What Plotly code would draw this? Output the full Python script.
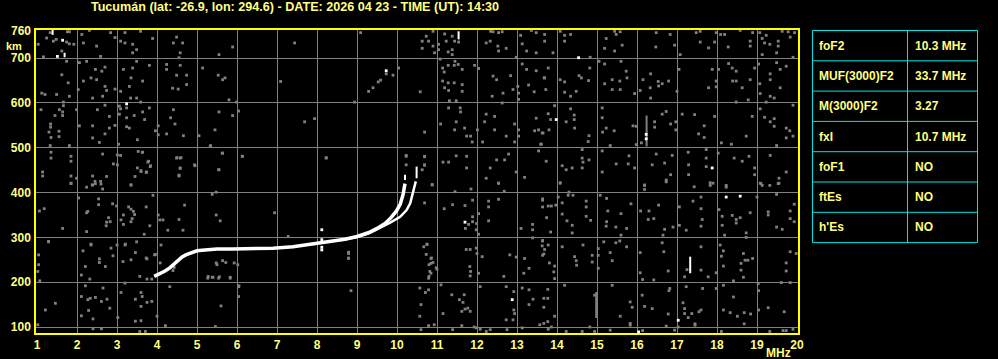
import plotly.graph_objects as go

# ---------------- data ----------------
title_text = "Tucumán (lat: -26.9, lon: 294.6) - DATE: 2026 04 23 - TIME (UT): 14:30"

x_ticks = list(range(1, 21))
y_grid = [100, 200, 300, 400, 500, 600, 700]
y_top_label = 760

# ordinary trace (o)
o_f = [3.93, 4.05, 4.2, 4.32, 4.42, 4.52, 4.62, 4.72, 4.85, 5.0, 5.2, 5.5, 5.9, 6.4,
       6.9, 7.4, 7.9, 8.3, 8.7, 9.0, 9.3, 9.5, 9.7, 9.85, 9.98, 10.08, 10.15, 10.2]
o_h = [213, 218, 225, 232, 240, 250, 256, 261, 266, 270, 272, 274, 274, 275,
       276, 279, 285, 290, 296, 302, 311, 320, 331, 344, 358, 374, 395, 420]
# extraordinary trace (x)
x_f = [8.6, 9.0, 9.3, 9.55, 9.83, 10.08, 10.24, 10.33, 10.39, 10.45, 10.47]
x_h = [294, 301, 309, 320, 333, 346, 361, 376, 395, 413, 425]

# white vertical echo segments (frequency, h start, h end)
white_segments = [(17.33, 220, 257), (10.2, 428, 440), (10.49, 432, 458),
                  (11.54, 742, 760), (1.39, 752, 763), (1.69, 702, 712)]

white_points = [(1.64, 740), (1.51, 704), (3.24, 598), (9.73, 672), (14.54, 701),
                (13.98, 563), (16.23, 530), (16.23, 520), (17.88, 455), (18.23, 390),
                (18.58, 392), (17.03, 115), (16.04, 89), (12.88, 161), (11.7, 334),
                (8.12, 317), (8.12, 295), (8.12, 272), (8.12, 278)]

gray_segments = [(16.24, 503, 572), (14.98, 120, 178)]

noise_points = [
    (1.24,745),(1.33,757),(1.41,738),(1.48,742),(1.76,759),(1.81,759),(1.74,736),(1.62,716),(1.81,732),(1.92,731),
    (2.12,753),(2.16,734),(2.31,762),(2.49,727),(2.59,704),(2.84,757),(2.95,746),(3.09,738),(3.2,757),(3.2,734),
    (3.39,731),(3.49,719),(3.59,760),(3.39,712),(3.89,744),(4.41,734),(4.49,747),(4.64,734),(4.58,712),(4.55,701),
    (5.55,708),(5.89,725),(1.03,731),(1.16,703),
    (1.74,693),(1.78,645),(1.62,663),(1.49,619),(1.12,622),(1.2,619),(1.81,615),(1.66,602),(2.03,630),(2.16,649),
    (2.06,690),(2.24,693),(2.46,675),(2.62,671),(2.7,680),(2.35,656),(2.49,652),(2.7,637),(2.74,628),(2.64,615),
    (2.39,611),(2.95,631),(3.09,626),(3.16,675),(3.31,637),(3.35,656),(3.39,678),(3.49,693),(3.64,649),(3.81,684),
    (3.34,611),(3.49,611),(3.59,602),(4.24,686),(4.24,675),(4.39,633),(4.53,631),(4.49,662),(4.58,684),(4.74,662),
    (4.74,641),(5.14,678),(5.53,662),(5.64,652),(5.7,656),(5.8,607),(5.99,602),(7.09,648),
    (1.1,585),(1.34,553),(1.34,546),(1.3,535),(1.35,523),(1.55,537),(1.55,525),(1.33,505),(1.45,572),(1.56,585),
    (1.64,580),(1.64,572),(1.66,594),(1.99,585),(1.81,505),(2.06,549),(2.39,549),(2.51,585),(2.7,595),(2.81,570),
    (2.81,544),(2.39,522),(2.56,512),(2.7,531),(2.95,550),(3.06,593),(3.09,587),(3.06,575),(3.24,589),(3.24,567),
    (3.24,547),(3.31,544),(3.43,572),(3.51,518),(3.69,563),(3.64,580),(3.81,589),(3.96,538),(4.03,549),(4.03,529),
    (4.24,531),(4.34,567),(4.41,585),(4.45,553),(4.66,527),(5.05,527),(5.34,505),(5.45,540),(5.55,580),(5.89,572),
    (6.04,582),(3.04,508),
    (1.35,490),(1.35,477),(1.14,446),(1.14,437),(1.85,481),(1.85,470),(1.85,437),(1.85,421),(1.99,432),(2.39,437),
    (2.45,425),(2.59,425),(2.74,436),(2.64,486),(2.91,464),(3.01,484),(3.09,483),(3.01,462),(3.35,417),(3.45,436),
    (3.53,492),(3.64,490),(3.51,455),(3.6,449),(3.74,446),(3.79,470),(3.84,460),(4.49,477),(4.58,477),(4.58,455),
    (4.55,437),(4.95,460),(5.55,451),(5.64,488),(6.14,481),(2.39,417),
    (7.44,734),(9.09,757),(10.9,760),(10.73,749),(10.63,738),(10.79,738),(10.63,722),(10.9,727),(10.94,712),(11.04,731),
    (11.04,719),(11.19,754),(11.23,738),(11.38,749),(11.28,714),(11.38,719),(11.44,738),(11.54,736),(11.38,708),(12.34,760),
    (12.4,759),(12.54,757),(12.63,759),(12.33,738),(12.23,734),(12.52,727),(12.54,716),(12.73,722),(13.09,751),(13.13,732),
    (13.24,716),(13.48,712),(13.48,757),(13.36,762),(12.98,702),
    (9.73,665),(9.59,651),(9.53,647),(9.4,634),(9.29,626),(9.9,662),(10.04,678),(10.58,625),(8.94,602),(11.08,698),
    (11.14,678),(11.18,669),(11.28,684),(11.45,693),(11.53,686),(11.43,684),(11.63,675),(11.28,645),(11.14,649),(11.19,634),
    (11.29,628),(11.43,645),(11.63,641),(11.63,626),(11.31,605),(11.48,605),(11.94,684),(12.04,677),(12.4,660),(12.49,652),
    (12.38,615),(12.65,622),(12.63,600),(12.84,661),(13.02,637),(13.04,622),(13.04,608),(12.9,630),(13.13,687),(13.24,675),
    (13.29,640),(13.48,672),(13.43,625),(13.68,656),
    (7.94,565),(7.69,558),(10.69,535),(11.09,553),(11.29,589),(11.58,589),(11.59,580),(11.48,558),(11.69,544),(11.44,540),
    (11.74,526),(11.84,526),(11.88,513),(12.23,575),(12.19,558),(12.44,570),(12.44,540),(12.73,526),(12.94,553),(12.94,513),
    (13.04,540),(13.04,526),(13.48,566),(13.44,538),(13.54,540),(13.63,533),(13.59,508),(12.14,513),(12.01,540),
    (8.23,477),(10.23,481),(10.23,462),(10.69,481),(10.69,462),(10.63,451),(10.88,417),(11.15,468),(11.29,468),(11.48,482),
    (11.74,481),(11.74,455),(12.23,432),(12.33,455),(12.49,473),(12.69,473),(12.79,486),(12.54,421),(12.98,446),(13.19,434),
    (13.54,493),
    (13.69,753),(13.69,738),(14.08,760),(14.19,751),(14.34,753),(14.19,738),(13.9,712),(14.83,702),(15.23,744),(15.44,760),
    (15.58,759),(15.48,753),(15.63,729),(15.44,716),(15.19,722),(16.48,757),(16.47,725),(16.83,753),(16.94,729),(17.08,708),
    (17.48,757),(17.58,760),(17.58,736),(17.94,736),(17.98,757),(17.79,723),(18.09,753),(18.19,753),(18.28,725),(18.58,762),
    (18.89,757),(18.83,738),(18.83,727),(19.07,757),(19.13,744),(19.23,751),(19.19,734),(19.32,731),(19.53,738),(19.53,727),
    (19.49,712),(19.63,760),(19.78,759),(19.83,747),(19.94,757),(19.13,708),(19.9,702),
    (13.78,678),(13.69,656),(13.72,630),(14.08,652),(14.19,647),(14.19,624),(14.34,615),(14.48,626),(14.55,661),(14.61,656),
    (14.79,650),(14.82,678),(15.05,693),(15.19,687),(15.6,693),(15.73,671),(15.57,649),(15.58,630),(15.38,652),(15.19,643),
    (15.38,630),(15.75,656),(15.94,621),(16.08,628),(16.15,652),(16.34,665),(16.33,634),(16.34,611),(16.53,648),(16.54,638),
    (16.63,643),(16.79,649),(17.0,626),(17.05,675),(17.88,675),(17.79,634),(17.98,649),(17.98,636),(18.04,675),(18.29,688),
    (18.38,678),(18.48,671),(18.39,649),(18.48,649),(18.63,634),(18.83,652),(18.78,607),(18.48,602),(19.04,687),(18.94,678),
    (19.07,643),(19.08,621),(19.23,602),(19.33,615),(19.43,611),(19.33,665),(19.33,652),(19.49,690),(19.58,675),(19.58,634),
    (19.73,682),
    (13.94,594),(13.78,576),(13.84,563),(13.65,533),(13.61,508),(13.8,540),(14.23,558),(14.34,587),(14.43,573),(14.43,563),
    (14.44,544),(14.8,527),(14.78,514),(15.13,589),(15.13,567),(15.23,544),(15.14,535),(15.43,538),(15.33,505),(15.9,549),
    (15.98,548),(15.98,507),(16.11,511),(16.44,558),(16.44,546),(16.63,575),(16.73,581),(16.84,553),(16.97,558),(16.97,540),
    (17.13,575),(17.44,574),(17.54,531),(17.68,549),(17.68,523),(17.94,570),(18.11,511),(18.36,508),(18.73,526),(18.88,570),
    (19.08,587),(19.19,568),(19.33,558),(19.43,565),(19.43,548),(19.73,544),(19.73,522),(19.82,538),(19.9,526),(19.9,595),
    (19.49,505),
    (13.73,470),(14.13,460),(14.23,451),(14.38,455),(14.63,496),(14.63,477),(14.65,468),(14.8,473),(14.63,455),(14.08,421),
    (15.13,493),(15.13,446),(15.48,464),(15.78,464),(15.8,482),(15.94,455),(16.19,417),(16.38,462),(16.48,486),(16.69,466),
    (16.73,428),(16.84,440),(16.88,483),(17.28,490),(17.29,462),(17.29,440),(17.73,496),(17.73,477),(17.73,458),(17.9,421),
    (18.03,488),(18.23,412),(18.43,477),(18.63,470),(18.8,481),(18.94,455),(18.94,440),(19.08,421),(19.33,483),(19.55,432),
    (19.55,421),(19.73,446),
    (14.08,422),(14.3,401),(14.28,394),(14.4,394),(14.03,390),(14.13,377),(13.78,370),(13.86,370),(13.97,372),(13.74,344),
    (13.64,383),(14.13,352),(14.25,337),(14.38,327),(14.38,310),(13.84,312),(14.73,381),(14.73,347),(14.73,368),(14.84,338),
    (15.08,394),(15.24,387),(15.27,359),(15.24,335),(15.23,325),(15.47,323),(15.6,353),(15.6,305),(15.74,320),(15.85,375),
    (16.09,359),(16.3,359),(16.28,340),(16.42,342),(16.54,372),(16.69,318),(16.9,323),(16.65,305),(16.19,416),(16.19,407),
    (16.73,424),(17.06,368),(17.4,381),(17.6,390),(17.6,364),(17.63,340),(17.43,413),(17.83,422),(17.83,416),(17.6,325),
    (17.06,327),(17.23,316),(18.23,416),(18.05,362),(18.13,347),(18.13,327),(18.38,349),(18.48,332),(18.48,340),(18.58,344),
    (18.73,310),(18.73,300),(18.19,305),(18.83,355),(19.1,420),(19.13,416),(19.32,416),(19.53,420),(19.0,390),(19.49,396),
    (19.28,357),(19.28,350),(19.49,323),(19.83,359),(19.83,342),(19.93,335),(19.93,374),(19.63,318),
    (13.64,292),(13.69,273),(13.78,283),(13.64,260),(13.81,243),(13.94,236),(13.94,208),(13.92,223),(14.13,279),(14.44,257),
    (14.48,248),(14.49,238),(14.65,283),(14.88,260),(14.88,245),(15.03,275),(15.03,260),(15.03,231),(15.17,290),(15.33,266),
    (15.38,248),(15.47,288),(15.57,292),(15.74,279),(16.08,266),(16.08,221),(16.14,206),(16.42,205),(16.67,268),(16.78,225),
    (16.63,288),(17.25,228),(17.19,212),(17.6,279),(17.6,227),(17.78,212),(17.98,221),(18.08,283),(18.11,258),(18.16,270),
    (18.16,236),(18.41,203),(18.6,242),(18.66,264),(18.7,249),(18.77,249),(18.89,253),(18.6,227),(18.66,211),(19.73,243),
    (19.73,225),(19.83,268),(19.98,264),(19.61,199),(19.03,197),
    (13.77,184),(13.67,164),(13.77,164),(13.67,144),(13.94,124),(13.77,112),(14.19,193),(14.94,171),(15.38,193),(15.58,124),
    (15.83,108),(15.83,156),(15.88,144),(16.13,171),(16.19,146),(16.38,141),(16.78,129),(16.82,186),(16.8,181),(17.23,190),
    (17.15,154),(17.19,141),(17.19,130),(17.28,121),(17.37,130),(17.45,107),(17.55,134),(17.6,138),(17.64,186),(17.98,186),
    (18.16,193),(18.41,167),(18.16,138),(18.33,132),(18.51,124),(18.68,132),(18.84,129),(19.04,181),(19.04,138),(19.28,143),
    (19.68,134),(19.83,199),(18.68,107),
    (13.86,100),(14.82,100),(15.33,93),(15.83,104),(16.14,92),(16.73,102),(16.94,93),(17.03,100),(17.45,104),(19.65,92),
    (19.73,92),(19.9,95),(13.67,108),(13.78,95),(14.23,90),(14.63,90),(14.94,90),(18.11,90),(19.32,90),
    (1.29,290),(1.04,261),(1.04,239),(1.02,224),(1.07,203),(1.21,138),(1.46,153),(1.02,105),(2.35,283),(2.15,270),
    (2.21,235),(2.11,216),(2.32,207),(2.56,252),(2.56,244),(2.71,235),(2.85,276),(2.9,259),(3.0,283),(3.2,283),
    (3.46,266),(3.15,246),(3.35,250),(3.75,252),(3.96,262),(3.57,213),(3.75,207),(3.87,207),(2.21,192),(2.11,168),
    (2.27,161),(2.33,164),(2.46,166),(2.61,157),(2.75,162),(2.29,137),(2.4,118),(2.11,125),(2.65,187),(2.82,142),
    (3.02,121),(3.1,177),(3.2,198),(3.46,162),(3.6,177),(3.63,168),(3.75,155),(3.6,146),(3.87,157),(4.0,124),
    (3.6,114),(3.46,113),(2.4,96),(2.61,96),(3.57,90),(3.71,90),(4.32,190),(4.21,103),(4.43,233),(4.4,226),
    (5.27,209),(5.4,211),(5.54,209),(5.83,209),(5.5,239),(5.72,244),(6.02,239),(6.04,190),(6.04,168),(5.6,147),
    (5.46,101),(8.79,264),(8.79,253),(8.85,181),(10.57,187),(10.6,150),(10.71,177),(10.79,183),(10.57,124),(10.6,94),
    (10.67,279),(10.75,285),(10.85,253),(10.85,242),(10.85,220),(10.79,209),(10.93,105),(11.0,229),(11.1,194),(11.15,130),
    (10.79,103),(11.37,172),(11.39,94),(11.56,161),(11.62,103),(11.65,155),(11.68,172),(11.7,140),(11.62,135),(11.77,142),
    (11.83,135),(11.82,235),(11.84,224),(11.83,214),(11.73,273),(11.83,273),(12.0,264),(11.98,276),(12.04,220),(12.13,257),
    (12.08,190),(11.98,98),(12.08,95),(12.23,90),(11.93,100),(12.33,94),
    (12.82,261),(12.98,256),(13.19,253),(13.3,231),(13.17,220),(12.67,213),(12.73,190),(12.92,179),(13.13,187),(13.3,183),
    (12.92,138),(12.94,130),(12.73,116),(12.9,116),(12.75,94),(13.13,98),(13.3,150),(13.4,162),(13.57,105),(13.63,281),
    (13.67,263),
    (3.63,490),(3.77,468),(3.83,458),(3.73,445),(3.6,447),(4.5,478),(4.6,478),(4.58,454),(4.55,439),(4.94,462),
    (5.33,503),(5.63,488),(6.13,481),(5.54,451),(5.48,401),(5.38,396),(4.69,372),(3.73,368),(3.9,394),(4.07,339),
    (4.15,339),(4.03,350),(4.55,340),(5.48,350),(5.58,337),(6.94,355),(7.28,302),(8.23,478),(8.79,267),(8.79,254),
    (10.23,483),(10.69,480),(10.69,461),(10.69,377),(10.88,418),(10.75,284),(10.86,254),(10.8,239),(10.9,244),(10.82,224),
    (10.8,213),(10.98,232),(3.82,326),(3.94,261),(3.73,254),(4.1,283),(4.08,243),(4.27,316),(4.65,316),(5.48,243),
    (5.64,248),(5.93,243),(5.28,213),(5.38,211),(5.56,212),(5.83,211),(6.05,192),(10.73,262),
    (1.85,420),(2.24,412),(2.38,417),(2.46,420),(2.64,408),(2.6,419),(2.04,388),(2.54,386),(2.54,373),(2.89,375),
    (2.99,370),(2.27,358),(2.24,355),(1.06,359),(1.18,364),(1.64,320),(2.24,313),(2.79,344),(2.83,335),(2.74,334),
    (2.73,326),(3.1,339),(3.16,350),(3.29,368),(3.35,363),(3.41,358),(3.44,351),(3.38,342),(3.35,335),(3.16,329),
    (3.35,417),(1.29,291),(2.35,285),(3.21,285),(3.49,290),(3.68,307),
    (11.85,408),(11.45,402),(12.54,421),(12.68,403),(11.18,364),(11.39,373),(11.7,371),(11.89,383),(12.29,381),(12.29,368),
    (12.54,385),(12.04,353),(11.89,346),(11.89,335),(11.79,329),(11.99,331),(11.98,317),(12.04,307),(12.29,337),(11.71,320),
    (13.1,320),(13.39,329),(13.39,317),(13.39,299),(13.64,386),(13.64,368),(13.64,293),
]

table_params = ["foF2", "MUF(3000)F2", "M(3000)F2", "fxI", "foF1", "ftEs", "h'Es"]
table_values = ["10.3 MHz", "33.7 MHz", "3.27", "10.7 MHz", "NO", "NO", "NO"]

# ---------------- styles ----------------
TXT = "#ffff80"
FONT = "Liberation Sans"
GRID = "#808080"
CYAN = "#00e5e5"

W, H = 998, 359
ML, MR, MT, MB = 36, 20, 30, 26
PW, PH = W - ML - MR, H - MT - MB


def px_x(px):
    return (px - ML) / PW


def px_y(py):
    return (H - MB - py) / PH


fig = go.Figure()


def seg_xy(segs):
    xs, ys = [], []
    for f, h0, h1 in segs:
        xs += [f, f, None]
        ys += [h0, h1, None]
    return xs, ys


fig.add_trace(go.Scatter(
    x=[p[0] for p in noise_points], y=[p[1] for p in noise_points],
    mode="markers", marker=dict(symbol="square", size=2.8, color=GRID, line=dict(width=0)),
    hoverinfo="skip"))
gx, gy = seg_xy(gray_segments)
fig.add_trace(go.Scatter(x=gx, y=gy, mode="lines", line=dict(color=GRID, width=2), hoverinfo="skip"))

fig.add_trace(go.Scatter(x=o_f, y=o_h, mode="lines", line=dict(color="white", width=3.5), hoverinfo="skip"))
fig.add_trace(go.Scatter(x=x_f, y=x_h, mode="lines", line=dict(color="white", width=2.5), hoverinfo="skip"))
wx, wy = seg_xy(white_segments)
fig.add_trace(go.Scatter(x=wx, y=wy, mode="lines", line=dict(color="white", width=2), hoverinfo="skip"))
fig.add_trace(go.Scatter(
    x=[p[0] for p in white_points], y=[p[1] for p in white_points],
    mode="markers", marker=dict(symbol="square", size=2.8, color="white", line=dict(width=0)),
    hoverinfo="skip"))

axis_font = dict(family=FONT, size=12, color=TXT, weight="bold")

# parameter table drawn with shapes + annotations
tab_left, tab_mid, tab_right = 812.5, 907.5, 977.5
tab_top, row_h = 30.5, 30.3
n_rows = len(table_params)
shapes = []
for i in range(n_rows + 1):
    yy = px_y(tab_top + i * row_h)
    shapes.append(dict(type="line", xref="paper", yref="paper", x0=px_x(tab_left), x1=px_x(tab_right),
                       y0=yy, y1=yy, line=dict(color=CYAN, width=1)))
for xx in (tab_left, tab_mid, tab_right):
    shapes.append(dict(type="line", xref="paper", yref="paper", x0=px_x(xx), x1=px_x(xx),
                       y0=px_y(tab_top), y1=px_y(tab_top + n_rows * row_h), line=dict(color=CYAN, width=1)))

annotations = []
for i, (p, v) in enumerate(zip(table_params, table_values)):
    yc = px_y(tab_top + (i + 0.5) * row_h)
    annotations.append(dict(text=p, x=px_x(817), y=yc, xref="paper", yref="paper", xanchor="left",
                            yanchor="middle", showarrow=False, font=axis_font))
    annotations.append(dict(text=v, x=px_x(913), y=yc, xref="paper", yref="paper", xanchor="left",
                            yanchor="middle", showarrow=False, font=axis_font))

annotations += [
    dict(text=str(y_top_label), x=0, y=y_top_label, xref="paper", yref="y", xanchor="right",
         yanchor="middle", xshift=-3, showarrow=False, font=axis_font),
    dict(text="km", x=px_x(14), y=px_y(46), xref="paper", yref="paper",
         xanchor="center", yanchor="middle", showarrow=False,
         font=dict(family=FONT, size=11, color=TXT, weight="bold")),
    dict(text="MHz", x=px_x(778.5), y=px_y(353), xref="paper", yref="paper",
         xanchor="center", yanchor="middle", showarrow=False, borderpad=0, font=axis_font),
]

fig.update_layout(
    width=W, height=H,
    margin=dict(l=ML, r=MR, t=MT, b=MB, autoexpand=False),
    paper_bgcolor="black", plot_bgcolor="black",
    showlegend=False,
    title=dict(text=title_text, x=295 / W, xanchor="center", y=1 - 7 / H, yanchor="middle",
               font=dict(family=FONT, size=12.6, color=TXT, weight="bold")),
    xaxis=dict(domain=[0, 762 / PW], range=[0.975, 20.025], tickvals=x_ticks,
               ticktext=[str(v) for v in x_ticks], showgrid=True, gridcolor=GRID, gridwidth=1,
               zeroline=False, showline=True, mirror=True, linecolor="#ffff00", linewidth=1.5,
               ticks="", tickfont=axis_font, automargin=False, fixedrange=True),
    yaxis=dict(range=[86.6, 762.9], tickvals=y_grid, ticktext=[str(v) for v in y_grid],
               showgrid=True, gridcolor=GRID, gridwidth=1, zeroline=False, showline=True,
               mirror=True, linecolor="#ffff00", linewidth=1.5, ticks="outside", ticklen=1,
               tickcolor="black", tickfont=axis_font, automargin=False, fixedrange=True),
    shapes=shapes,
    annotations=annotations,
)

fig.write_html("out.html")
